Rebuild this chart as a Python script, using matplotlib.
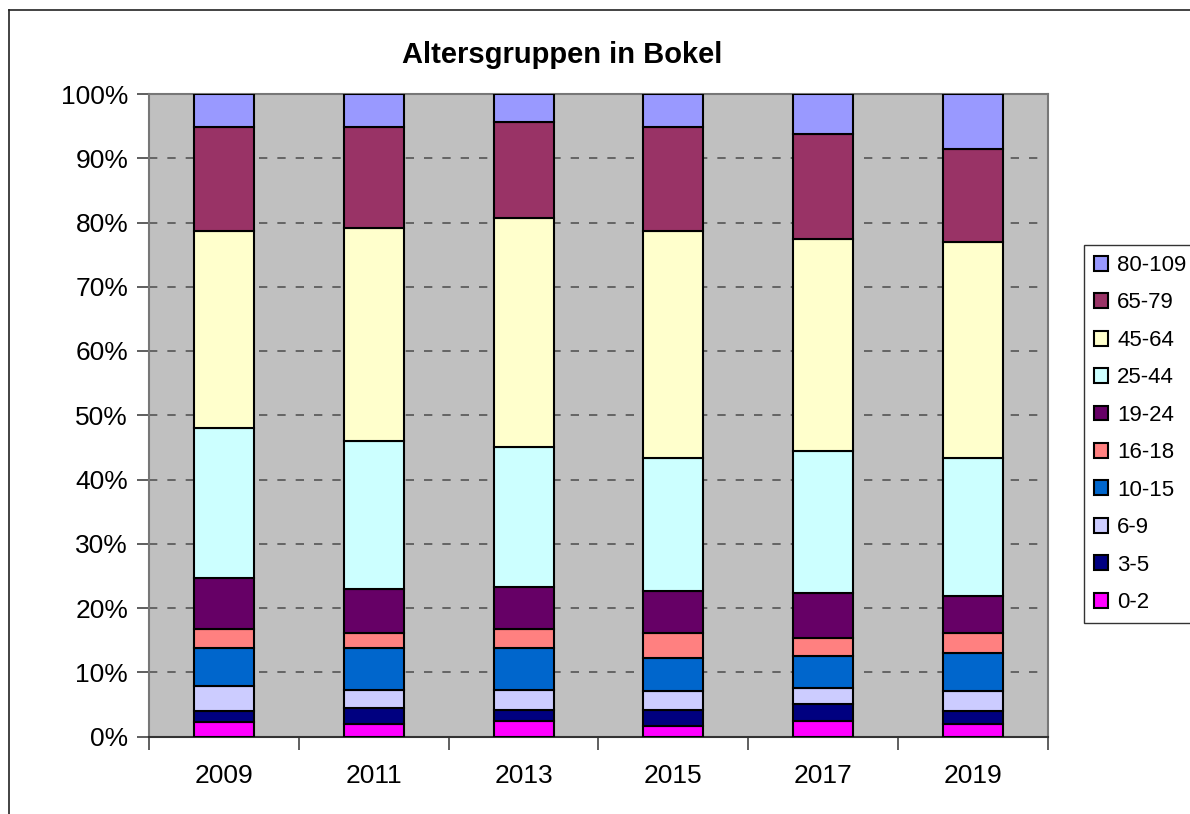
import matplotlib
matplotlib.use("Agg")
import matplotlib.pyplot as plt
import numpy as np
from matplotlib.lines import Line2D

plt.rcParams["font.family"] = ["Liberation Sans", "DejaVu Sans"]

jahre = ["2009", "2011", "2013", "2015", "2017", "2019"]
gruppen = ["0-2", "3-5", "6-9", "10-15", "16-18", "19-24", "25-44", "45-64", "65-79", "80-109"]
farben = ["#FF00FF", "#000080", "#CCCCFF", "#0066CC", "#FF8080",
          "#660066", "#CCFFFF", "#FFFFCC", "#993366", "#9999FF"]

# Anteile in Prozent je Jahr
a_0_2 = [2.2, 1.9, 2.4, 1.6, 2.4, 1.9]
a_3_5 = [1.8, 2.6, 1.8, 2.6, 2.6, 2.1]
a_6_9 = [3.9, 2.8, 3.1, 2.9, 2.6, 3.1]
a_10_15 = [5.9, 6.4, 6.4, 5.1, 4.9, 5.9]
a_16_18 = [2.9, 2.4, 3.0, 3.9, 2.8, 3.1]
a_19_24 = [8.0, 6.9, 6.6, 6.5, 7.1, 5.8]
a_25_44 = [23.3, 23.0, 21.8, 20.8, 22.1, 21.5]
a_45_64 = [30.7, 33.2, 35.6, 35.3, 33.0, 33.6]
a_65_79 = [16.1, 15.6, 15.0, 16.1, 16.2, 14.4]
a_80_109 = [5.2, 5.2, 4.3, 5.2, 6.3, 8.6]

serien = [a_0_2, a_3_5, a_6_9, a_10_15, a_16_18, a_19_24,
          a_25_44, a_45_64, a_65_79, a_80_109]

fig = plt.figure(figsize=(11.9, 8.14), dpi=100)
ax = fig.add_axes([149 / 1190, 1 - 736.5 / 814, 899 / 1190, 642.5 / 814])
ax.set_facecolor("#C0C0C0")

x = np.arange(len(jahre))
werte = np.array(serien, dtype=float)
werte = werte / werte.sum(axis=0) * 100
unten = np.zeros(len(jahre))
for name, w, f in zip(gruppen, werte, farben):
    ax.bar(x, w, 0.4, bottom=unten, color=f, edgecolor="black", linewidth=1.5,
           label=name, zorder=3)
    unten += w

ax.set_xlim(-0.5, 5.5)
ax.set_ylim(0, 100)
for g in range(10, 100, 10):
    ax.axhline(g, color="#555555", linestyle=(0, (5, 6)), linewidth=1.2, zorder=1)

ax.set_yticks(range(0, 101, 10))
ax.set_yticklabels([f"{v}%" for v in range(0, 101, 10)], fontsize=19)
ax.set_xticks(np.arange(-0.5, 6, 1))
ax.set_xticklabels([])
ax.set_xticks(x, minor=True)
ax.set_xticklabels(jahre, minor=True, fontsize=19)
ax.tick_params(axis="x", which="major", length=9, width=1.2, color="#444444")
ax.tick_params(axis="x", which="minor", length=0, pad=20)
ax.tick_params(axis="y", length=9, width=1.2, color="#444444", pad=6)
for s in ax.spines.values():
    s.set_color("#777777")
    s.set_linewidth(1.5)
ax.spines["bottom"].set_color("#333333")

fig.text(562 / 1190, 1 - 55 / 814, "Altersgruppen in Bokel", fontsize=21,
         fontweight="bold", ha="center", va="center")

h, l = ax.get_legend_handles_labels()
leg = fig.legend(h[::-1], l[::-1], loc="upper left",
                 bbox_to_anchor=(1084 / 1190, 1 - 245 / 814), fontsize=16,
                 frameon=True, fancybox=False, edgecolor="black",
                 handlelength=0.65, handleheight=0.65, handletextpad=0.4,
                 labelspacing=0.74, borderpad=0.45, borderaxespad=0)
leg.get_frame().set_linewidth(1.0)

# Rahmen um das Diagramm
fig.add_artist(Line2D([9 / 1190, 9 / 1190], [0, 1 - 10 / 814], color="#222222",
                      linewidth=1.2, transform=fig.transFigure))
fig.add_artist(Line2D([9 / 1190, 1], [1 - 10 / 814, 1 - 10 / 814], color="#222222",
                      linewidth=1.2, transform=fig.transFigure))

fig.savefig("out.png", dpi=100)
